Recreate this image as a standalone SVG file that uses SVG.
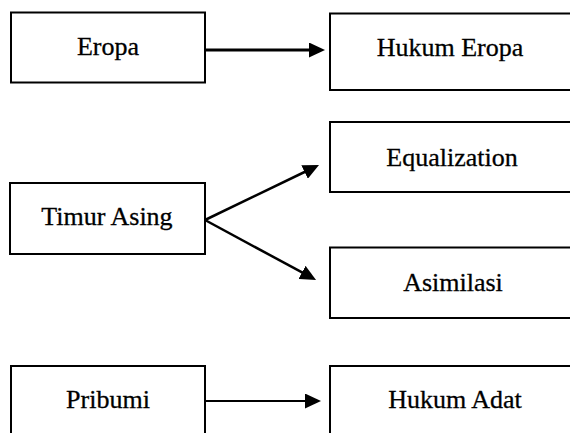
<svg xmlns="http://www.w3.org/2000/svg" width="570" height="433" viewBox="0 0 570 433">
<style>
.box{fill:#fff;stroke:#000;stroke-width:2}
text{font-family:'Liberation Serif','Times New Roman',Times,serif;font-size:26px;fill:#000;stroke:#000;stroke-width:0.3;text-anchor:middle}
.con{fill:none;stroke:#000}
</style>
<defs>
<marker id="ah" markerUnits="userSpaceOnUse" markerWidth="16" markerHeight="15" refX="8" refY="7.5" orient="auto">
<path d="M0,0 L16,7.5 L0,15 z" fill="#000"/>
</marker>
</defs>
<rect width="570" height="433" fill="#fff"/>
<g id="eropa"><rect class="box" x="11" y="12.5" width="194" height="70"/><text x="108" y="55">Eropa</text></g>
<g id="hukum-eropa"><rect class="box" x="330" y="13.5" width="260" height="76.5"/><text x="450" y="56" font-size="27">Hukum Eropa</text></g>
<g id="equalization"><rect class="box" x="330" y="122" width="260" height="70"/><text x="452" y="166">Equalization</text></g>
<g id="timur-asing"><rect class="box" x="10" y="183" width="195" height="71"/><text x="107" y="225">Timur Asing</text></g>
<g id="asimilasi"><rect class="box" x="330" y="247.5" width="260" height="70.5"/><text x="453" y="291">Asimilasi</text></g>
<g id="pribumi"><rect class="box" x="11" y="366" width="194" height="80"/><text x="108" y="408">Pribumi</text></g>
<g id="hukum-adat"><rect class="box" x="330" y="366" width="260" height="80"/><text x="455" y="408">Hukum Adat</text></g>
<g id="connectors">
<path class="con" stroke-width="3" d="M205,50 L317,50" marker-end="url(#ah)"/>
<path class="con" stroke-width="2.5" d="M205,220 L311.8,168.5" marker-end="url(#ah)"/>
<path class="con" stroke-width="2.5" d="M205,220 L309,276.2" marker-end="url(#ah)"/>
<path class="con" stroke-width="2" d="M205,401 L313,401" marker-end="url(#ah)"/>
</g>
</svg>
